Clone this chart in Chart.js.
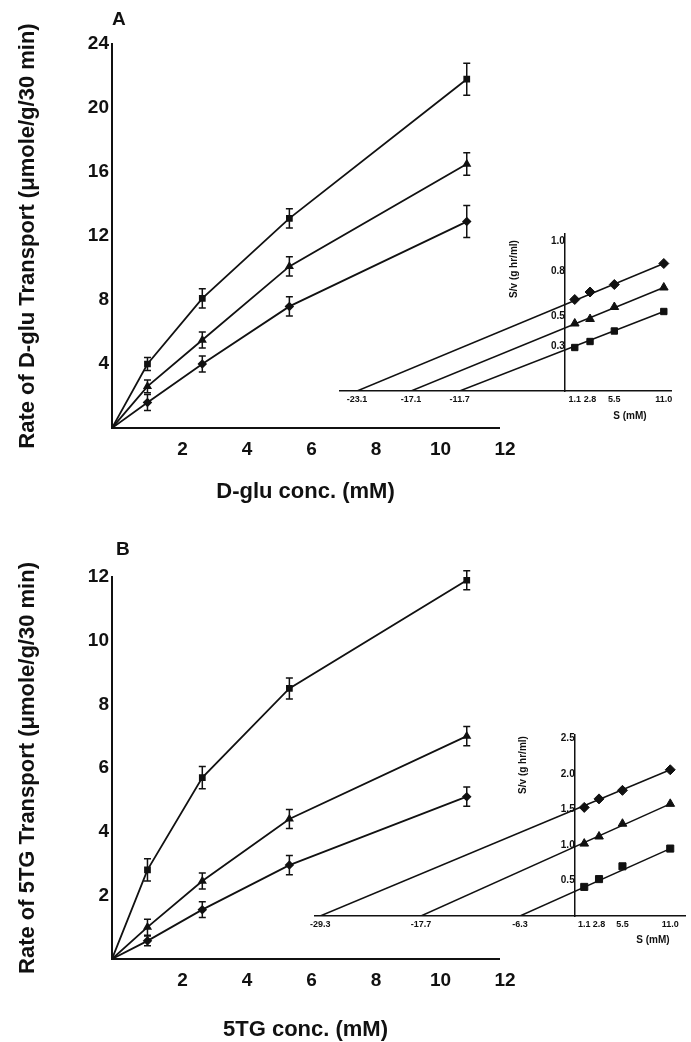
<!DOCTYPE html>
<html>
<head>
<meta charset="utf-8">
<script src="https://cdn.jsdelivr.net/npm/chart.js@4.4.0/dist/chart.umd.min.js"></script>
<style>
  html, body { margin: 0; padding: 0; background: #fff; overflow: hidden; }
  #page { position: relative; width: 691px; height: 1042px; font-family: "Liberation Sans", Arial, sans-serif; color: #111; }
  canvas { position: absolute; }
  .lbl { position: absolute; white-space: nowrap; }
  .panel { font-weight: bold; font-size: 19px; }
  .small { font-weight: bold; font-size: 10px; transform: translate(-50%, -50%); }
  .rot { transform: translate(-50%, -50%) rotate(-90deg); }
</style>
</head>
<body>
<div id="page">
  <canvas id="mainA" style="left:0;top:0" width="691" height="520"></canvas>
  <canvas id="insetA" style="left:330px;top:225px" width="361" height="200"></canvas>
  <canvas id="mainB" style="left:0;top:520px" width="691" height="522"></canvas>
  <canvas id="insetB" style="left:300px;top:728px" width="391" height="214"></canvas>

  <div class="lbl panel" style="left:112px;top:8px">A</div>
  <div class="lbl panel" style="left:116px;top:538px">B</div>
  <div class="lbl small rot" style="left:513px;top:269px">S/v (g hr/ml)</div>
  <div class="lbl small" style="left:630px;top:415px">S (mM)</div>
  <div class="lbl small rot" style="left:522px;top:765px">S/v (g hr/ml)</div>
  <div class="lbl small" style="left:653px;top:939px">S (mM)</div>
</div>
<script>
// substrate concentrations (mM), origin included for the main curves
const conc = [0, 1.1, 2.8, 5.5, 11.0];
const xTicks = [2, 4, 6, 8, 10, 12];

// Panel A: D-glu transport (umole/g/30 min)
const gluSquare = [0, 4.0, 8.1, 13.1, 21.8];
const gluSquareErr = [0, 0.4, 0.6, 0.6, 1.0];
const gluTriangle = [0, 2.6, 5.5, 10.1, 16.5];
const gluTriangleErr = [0, 0.4, 0.5, 0.6, 0.7];
const gluDiamond = [0, 1.6, 4.0, 7.6, 12.9];
const gluDiamondErr = [0, 0.5, 0.5, 0.6, 1.0];
const yTicksA = [4, 8, 12, 16, 20, 24];

// Panel B: 5TG transport
const tgSquare = [0, 2.8, 5.7, 8.5, 11.9];
const tgSquareErr = [0, 0.35, 0.35, 0.33, 0.3];
const tgTriangle = [0, 1.0, 2.45, 4.4, 7.0];
const tgTriangleErr = [0, 0.25, 0.25, 0.3, 0.3];
const tgDiamond = [0, 0.57, 1.55, 2.95, 5.1];
const tgDiamondErr = [0, 0.15, 0.25, 0.3, 0.3];
const yTicksB = [2, 4, 6, 8, 10, 12];

// Hanes plots (S/v vs S)
const insetS = [1.1, 2.8, 5.5, 11.0];
const hanesA_diamond = [0.61, 0.66, 0.71, 0.85];
const hanesA_triangle = [0.45, 0.48, 0.56, 0.69];
const hanesA_square = [0.29, 0.33, 0.40, 0.53];
const interceptsA = [-23.1, -17.1, -11.7];
const insetXTicksA = [-23.1, -17.1, -11.7, 1.1, 2.8, 5.5, 11.0];
const insetYTicksA = [0.3, 0.5, 0.8, 1.0];

const hanesB_diamond = [1.53, 1.65, 1.77, 2.06];
const hanesB_triangle = [1.02, 1.12, 1.30, 1.58];
const hanesB_square = [0.41, 0.52, 0.70, 0.95];
const interceptsB = [-29.3, -17.7, -6.3];
const insetXTicksB = [-29.3, -17.7, -6.3, 1.1, 2.8, 5.5, 11.0];
const insetYTicksB = [0.5, 1.0, 1.5, 2.0, 2.5];

const ink = '#111';
const family = '"Liberation Sans", Arial, sans-serif';

// vertical error bars with caps
const errorBars = {
  id: 'errorBars',
  afterDatasetsDraw(chart) {
    const {ctx, scales: {x, y}} = chart;
    ctx.save();
    ctx.strokeStyle = ink;
    ctx.lineWidth = 1.5;
    chart.data.datasets.forEach(ds => {
      if (!ds.errors) return;
      ds.data.forEach((p, j) => {
        const e = ds.errors[j];
        if (!e) return;
        const px = x.getPixelForValue(p.x);
        const top = y.getPixelForValue(p.y + e);
        const bot = y.getPixelForValue(p.y - e);
        ctx.beginPath();
        ctx.moveTo(px, top); ctx.lineTo(px, bot);
        ctx.moveTo(px - 3.5, top); ctx.lineTo(px + 3.5, top);
        ctx.moveTo(px - 3.5, bot); ctx.lineTo(px + 3.5, bot);
        ctx.stroke();
      });
    });
    ctx.restore();
  }
};

function mainChart(id, cfg) {
  const datasets = cfg.series.map(s => ({
    data: conc.map((c, i) => ({x: c, y: s.values[i]})),
    errors: s.errors,
    pointStyle: s.style,
    pointRadius: conc.map(c => c === 0 ? 0 : s.r),
    borderColor: ink,
    backgroundColor: ink,
    borderWidth: 1.8,
    tension: 0
  }));
  return new Chart(document.getElementById(id), {
    type: 'line',
    data: {datasets},
    options: {
      responsive: false,
      animation: false,
      layout: {padding: {left: 0, right: 192, top: cfg.top, bottom: 0}},
      plugins: {legend: {display: false}, tooltip: {enabled: false}},
      scales: {
        x: {
          type: 'linear', min: 0, max: 12,
          afterBuildTicks: sc => { sc.ticks = xTicks.map(v => ({value: v})); },
          afterFit: sc => { sc.height = cfg.xh; },
          grid: {display: false, drawTicks: false},
          border: {color: ink, width: 2},
          ticks: {labelOffset: 6, padding: 10, color: ink, font: {family, size: 19, weight: 'bold'}},
          title: {display: true, text: cfg.xTitle, color: ink,
                  font: {family, size: 22, weight: 'bold', lineHeight: 1}, padding: {top: 0, bottom: cfg.xtp}}
        },
        y: {
          type: 'linear', min: 0, max: cfg.ymax,
          afterBuildTicks: sc => { sc.ticks = cfg.yTicks.map(v => ({value: v})); },
          afterFit: sc => { sc.width = 112; },
          grid: {display: false, drawTicks: false},
          border: {color: ink, width: 2},
          ticks: {padding: 3, color: ink, font: {family, size: 19, weight: 'bold'}},
          title: {display: true, text: cfg.yTitle, color: ink,
                  font: {family, size: 22, weight: 'bold', lineHeight: 1}, padding: {top: 17, bottom: 0}}
        }
      }
    },
    plugins: [errorBars]
  });
}

function insetChart(id, cfg) {
  const datasets = [];
  cfg.series.forEach(s => {
    const last = insetS.length - 1;
    datasets.push({
      data: [{x: s.intercept, y: 0}, {x: insetS[last], y: s.values[last]}],
      pointRadius: 0, borderColor: ink, borderWidth: 1.5, tension: 0
    });
    datasets.push({
      data: insetS.map((v, i) => ({x: v, y: s.values[i]})),
      showLine: false, pointStyle: s.style, pointRadius: s.r,
      backgroundColor: ink, borderColor: ink, borderWidth: 1
    });
  });
  return new Chart(document.getElementById(id), {
    type: 'line',
    data: {datasets},
    options: {
      responsive: false,
      animation: false,
      layout: {padding: cfg.pad},
      plugins: {legend: {display: false}, tooltip: {enabled: false}},
      scales: {
        x: {
          type: 'linear', min: cfg.xmin, max: cfg.xmax, position: {y: 0},
          afterBuildTicks: sc => { sc.ticks = cfg.xTicks.map(v => ({value: v})); },
          grid: {display: false, drawTicks: false},
          border: {color: ink, width: 1.5},
          ticks: {padding: 3, color: ink, font: {family, size: 9, weight: 'bold'},
                  callback: v => v.toFixed(1)}
        },
        y: {
          type: 'linear', min: 0, max: cfg.ymax, position: {x: 0},
          afterBuildTicks: sc => { sc.ticks = cfg.yTicks.map(v => ({value: v})); },
          grid: {display: false, drawTicks: false},
          border: {color: ink, width: 1.5},
          ticks: {padding: 1, color: ink, font: {family, size: 10, weight: 'bold'},
                  callback: v => v.toFixed(1)}
        }
      }
    }
  });
}

mainChart('mainA', {
  top: 44, xh: 92, xtp: 17, ymax: 24, yTicks: yTicksA,
  xTitle: 'D-glu conc. (mM)',
  yTitle: 'Rate of D-glu Transport (\u03bcmole/g/30 min)',
  series: [
    {values: gluSquare, errors: gluSquareErr, style: 'rect', r: 3.5},
    {values: gluTriangle, errors: gluTriangleErr, style: 'triangle', r: 3.5},
    {values: gluDiamond, errors: gluDiamondErr, style: 'rectRot', r: 3.5}
  ]
});

mainChart('mainB', {
  top: 57, xh: 83, xtp: 1, ymax: 12, yTicks: yTicksB,
  xTitle: '5TG conc. (mM)',
  yTitle: 'Rate of 5TG Transport (\u03bcmole/g/30 min)',
  series: [
    {values: tgSquare, errors: tgSquareErr, style: 'rect', r: 3.5},
    {values: tgTriangle, errors: tgTriangleErr, style: 'triangle', r: 3.5},
    {values: tgDiamond, errors: tgDiamondErr, style: 'rectRot', r: 3.5}
  ]
});

insetChart('insetA', {
  xmin: -25, xmax: 11.8, ymax: 1.05,
  pad: {left: 10, right: 20, top: 8.5, bottom: 34},
  xTicks: insetXTicksA, yTicks: insetYTicksA,
  series: [
    {values: hanesA_diamond, intercept: interceptsA[0], style: 'rectRot', r: 5},
    {values: hanesA_triangle, intercept: interceptsA[1], style: 'triangle', r: 5},
    {values: hanesA_square, intercept: interceptsA[2], style: 'rect', r: 4.5}
  ]
});

insetChart('insetB', {
  xmin: -29.9, xmax: 12.7, ymax: 2.55,
  pad: {left: 15, right: 1, top: 6, bottom: 26},
  xTicks: insetXTicksB, yTicks: insetYTicksB,
  series: [
    {values: hanesB_diamond, intercept: interceptsB[0], style: 'rectRot', r: 5},
    {values: hanesB_triangle, intercept: interceptsB[1], style: 'triangle', r: 5},
    {values: hanesB_square, intercept: interceptsB[2], style: 'rect', r: 5}
  ]
});
</script>
</body>
</html>
